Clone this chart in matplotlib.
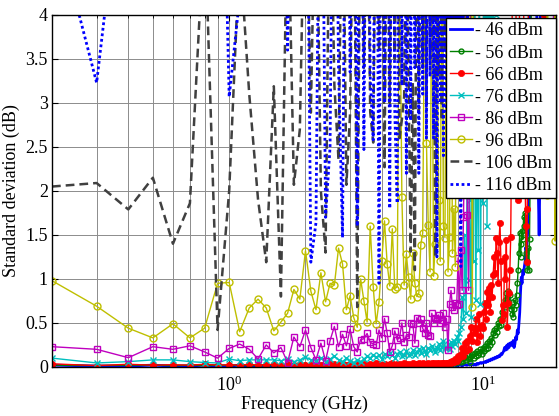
import numpy as np
import matplotlib
matplotlib.use('Agg')
import matplotlib.pyplot as plt
from matplotlib.ticker import FormatStrFormatter

plt.rcParams['font.family'] = 'serif'
plt.rcParams['font.serif'] = ['Liberation Serif', 'DejaVu Serif']
plt.rcParams['mathtext.fontset'] = 'custom'
plt.rcParams['mathtext.rm'] = 'Liberation Serif'
plt.rcParams['mathtext.it'] = 'Liberation Serif:italic'

# frequency grid, 0.1 GHz steps (0.2 ... 20.1 GHz)
freq = np.round(np.arange(2, 202) * 0.1, 1)

# standard deviation (dB) per input power; values above 4 are off the plot
s46 = [0.02,0.01,0.01,0.02,0.01,0.01,0.02,0.01,0.01,0.02,
       0.01,0.01,0.02,0.01,0.01,0.01,0.02,0.01,0.01,0.01,
       0.02,0.01,0.01,0.01,0.02,0.01,0.01,0.02,0.01,0.01,
       0.01,0.02,0.01,0.01,0.01,0.02,0.01,0.01,0.02,0.01,
       0.01,0.01,0.02,0.01,0.01,0.02,0.01,0.01,0.01,0.02,
       0.01,0.02,0.01,0.01,0.02,0.01,0.01,0.02,0.01,0.02,
       0.01,0.01,0.02,0.01,0.02,0.01,0.02,0.01,0.01,0.02,
       0.01,0.02,0.01,0.02,0.01,0.02,0.02,0.01,0.02,0.02,
       0.02,0.01,0.02,0.03,0.02,0.02,0.03,0.02,0.03,0.03,
       0.02,0.03,0.02,0.04,0.03,0.04,0.05,0.04,0.05,0.05,
       0.06,0.05,0.07,0.06,0.08,0.07,0.09,0.08,0.10,0.09,
       0.11,0.10,0.12,0.11,0.13,0.12,0.15,0.14,0.16,0.18,
       0.22,0.19,0.24,0.20,0.26,0.22,0.27,0.25,0.28,0.24,
       0.30,0.22,0.26,0.34,0.31,0.42,0.38,0.49,0.62,0.85,
       1.02,0.95,1.10,1.05,1.14,1.20,1.36,1.30,1.48,1.56,
       2.3,3.6,5.0,6.0,5.5,6.0,5.2,4.8,5.6,6.0,
       5.0,4.6,3.4,2.5,1.9,1.5,2.1,4.5,6.0,7.0,
       7,7,7,7,7,7,7,7,7,7,
       7,7,7,7,7,7,7,7,7,7,
       7,7,7,7,7,7,7,7,7,7]

s56 = [0.02,0.015,0.02,0.02,0.015,0.02,0.015,0.02,0.02,0.015,
       0.02,0.015,0.02,0.02,0.015,0.02,0.02,0.015,0.02,0.02,
       0.015,0.02,0.02,0.015,0.02,0.02,0.015,0.02,0.02,0.015,
       0.02,0.02,0.015,0.02,0.02,0.025,0.02,0.015,0.02,0.02,
       0.02,0.025,0.02,0.02,0.015,0.02,0.025,0.02,0.02,0.025,
       0.02,0.025,0.02,0.03,0.02,0.025,0.02,0.03,0.025,0.02,
       0.03,0.025,0.02,0.03,0.025,0.03,0.02,0.03,0.035,0.025,
       0.03,0.04,0.03,0.05,0.04,0.06,0.05,0.07,0.06,0.08,
       0.06,0.09,0.07,0.11,0.08,0.13,0.09,0.06,0.12,0.15,
       0.10,0.16,0.12,0.18,0.14,0.16,0.20,0.15,0.22,0.18,
       0.24,0.20,0.27,0.22,0.30,0.25,0.33,0.28,0.38,0.42,
       0.36,0.44,0.40,0.50,0.46,0.55,0.48,0.62,0.58,0.70,
       0.76,0.68,0.84,0.78,0.86,0.70,0.82,0.66,0.74,0.60,
       0.57,0.66,0.76,0.70,0.82,0.95,1.10,1.30,1.52,1.25,
       1.40,1.55,1.45,1.70,1.60,1.75,1.30,1.20,1.10,1.35,
       1.10,1.45,2.2,3.5,4.8,6,7,7,7,7,
       7,7,7,7,7,7,7,7,7,7,
       7,7,7,7,7,7,7,7,7,7,
       7,7,7,7,7,7,7,7,7,7,
       7,7,7,7,7,7,7,7,7,7]

s66 = [0.035,0.015,0.03,0.02,0.025,0.02,0.03,0.02,0.025,0.02,
       0.03,0.02,0.025,0.03,0.02,0.035,0.02,0.03,0.025,0.02,
       0.03,0.025,0.02,0.035,0.03,0.02,0.03,0.025,0.035,0.02,
       0.03,0.02,0.035,0.025,0.03,0.02,0.04,0.03,0.025,0.035,
       0.02,0.03,0.04,0.025,0.035,0.03,0.02,0.04,0.03,0.035,
       0.025,0.04,0.03,0.035,0.045,0.03,0.04,0.025,0.035,0.045,
       0.03,0.04,0.05,0.035,0.045,0.04,0.03,0.05,0.04,0.045,
       0.05,0.04,0.06,0.05,0.07,0.06,0.09,0.07,0.12,0.10,
       0.15,0.22,0.12,0.27,0.18,0.30,0.20,0.35,0.45,0.30,
       0.44,0.38,0.55,0.28,0.44,0.60,0.35,0.48,0.44,0.62,
       0.73,0.55,0.85,0.70,0.90,0.62,0.93,0.80,1.05,1.25,
       1.07,1.47,1.30,0.95,1.42,1.64,1.20,0.53,0.70,0.60,
       1.25,1.00,1.44,0.45,0.73,0.84,1.10,1.48,2.6,4.5,
       5.5,6,5,4.5,3.2,2.4,1.9,2.8,4.6,6,
       7,6,5,4.2,3.0,2.1,1.6,1.19,1.8,3.5,
       5,6,7,7,7,7,7,7,7,7,
       7,7,7,7,7,7,7,7,7,7,
       7,6,5,4,3,2.6,2.45,3.1,4.5,6,
       7,7,7,7,7,7,7,7,7,7,
       7,7,7,7,7,7,7,7,7,7]

s76 = [0.10,0.045,0.06,0.08,0.08,0.06,0.05,0.045,0.09,0.07,
       0.08,0.08,0.08,0.08,0.07,0.09,0.06,0.08,0.11,0.08,
       0.07,0.10,0.06,0.09,0.12,0.08,0.06,0.10,0.07,0.05,
       0.08,0.06,0.09,0.12,0.10,0.14,0.11,0.13,0.09,0.15,
       0.12,0.16,0.13,0.10,0.15,0.17,0.12,0.14,0.18,0.13,
       0.15,0.19,0.14,0.17,0.20,0.16,0.22,0.18,0.15,0.21,
       0.19,0.24,0.20,0.17,0.22,0.26,0.19,0.23,0.30,0.22,
       0.22,0.26,0.20,0.28,0.24,0.30,0.26,0.34,0.30,0.38,
       0.45,0.80,0.55,1.50,0.61,2.6,0.99,1.9,0.57,3.2,
       1.2,4.5,0.76,2.8,1.33,5,0.72,3.5,1.86,5,
       2.3,6,1.6,4.8,2.9,6,3.5,6,2.1,5,
       6,4,7,5,7,6,7,7,6,7,
       7,7,7,7,7,7,7,7,7,7,
       7,7,7,7,7,7,7,7,7,7,
       7,7,7,7,7,7,7,7,7,7,
       7,7,7,7,7,7,7,7,7,7,
       7,7,7,7,7,7,7,7,7,7,
       7,7,7,7,7,7,7,7,7,7,
       7,7,7,7,7,7,7,7,7,7,
       7,5,4,2.88,4,7,7,7,7,7]

s86 = [0.23,0.20,0.105,0.23,0.20,0.24,0.17,0.10,0.21,0.26,
       0.20,0.09,0.25,0.16,0.22,0.05,0.34,0.23,0.42,0.22,
       0.08,0.27,0.07,0.30,0.46,0.23,0.37,0.24,0.43,0.23,
       0.17,0.31,0.32,0.38,0.28,0.26,0.25,0.42,0.33,0.55,
       0.38,0.17,0.24,0.41,0.31,0.33,0.50,0.28,0.36,0.34,
       0.50,0.49,0.27,0.56,0.50,0.54,0.44,0.39,0.50,0.36,
       0.35,0.61,0.50,0.56,0.54,0.59,0.50,0.53,0.61,0.45,
       0.55,0.19,0.72,0.87,0.68,0.65,0.73,0.70,1.24,0.72,
       1.33,0.87,1.70,2.8,4.5,1.73,0.87,3.2,5,6,
       4.2,6,7,5,7,6,7,4.6,7,7,
       7,7,7,7,7,7,7,7,7,7,
       7,7,7,7,7,7,7,7,7,7,
       7,7,7,7,7,7,7,7,7,7,
       7,7,7,7,7,7,7,7,7,7,
       7,7,7,7,7,7,7,7,7,7,
       7,7,7,7,7,7,7,7,7,7,
       7,7,7,7,7,7,7,7,7,7,
       7,7,7,7,7,7,7,7,7,7,
       7,7,7,7,7,7,7,7,7,7,
       7,4.2,2.55,4,7,7,7,7,7,7]

s96 = [0.98,0.69,0.44,0.33,0.49,0.33,0.44,0.95,0.96,0.40,
       0.67,0.77,0.67,0.41,0.51,0.61,0.88,0.77,1.32,0.86,
       0.65,1.07,0.74,0.95,0.93,1.35,1.17,0.65,0.81,0.56,
       0.45,1.00,0.75,0.51,1.60,0.91,0.49,0.74,1.20,1.66,
       1.17,0.92,1.57,0.89,0.91,4.8,1.93,0.93,1.28,1.02,
       0.77,1.30,0.95,0.80,0.84,1.39,1.52,4.5,2.55,1.61,
       1.08,5,1.03,1.40,4.8,1.90,1.20,5,1.60,1.47,
       5,1.08,1.48,4.6,1.29,1.80,1.14,5,6,2.2,
       5,6,7,4,2.5,6,7,7,6,0.68,
       4.5,7,7,6,7,7,7,7,7,7,
       7,7,7,7,7,7,7,7,7,7,
       7,7,7,7,7,7,7,7,7,7,
       7,7,7,7,7,7,7,7,7,7,
       7,7,7,7,7,7,7,7,7,7,
       7,7,7,7,7,7,7,7,7,7,
       7,7,7,7,7,7,7,7,7,7,
       7,7,7,7,7,7,7,7,7,7,
       7,7,7,7,7,7,7,5,1.95,5,
       7,7,7,7,7,7,7,7,7,7,
       6,1.43,5,7,7,7,7,7,7,7]

s106 = [2.05,2.09,1.79,2.15,1.40,1.86,5.1,0.42,2.0,4.75,
        3.1,1.9,1.19,3.19,0.80,5.5,2.07,2.70,6,2.89,
        6,2.0,1.30,6,3.2,2.35,6,2.07,2.89,6,
        0.68,6,3.4,6,2.9,2.55,6,3.6,6,2.27,
        6,3.0,6,3.5,6,2.6,2.81,3.07,6,3.3,
        1.31,3.23,1.10,6,2.9,6,3.4,6,3.0,6,
        3.5,3.64,6,1.24,6,3.3,6,2.8,6,3.6,
        6,3.2,3.5,6,2.9,6,3.3,6,6,3.4,
        6,3.5,6,6,6,6,6,6,6,6,
        6,6,6,6,6,6,6,6,6,6,
        6,6,6,6,6,6,6,6,6,6,
        6,6,6,6,6,6,6,6,6,6,
        6,6,6,6,6,6,6,6,6,6,
        6,6,6,6,6,6,6,6,6,6,
        6,6,6,6,6,6,6,6,6,6,
        6,6,6,6,6,6,6,6,6,6,
        6,6,6,6,6,6,6,6,6,6,
        6,6,6,6,6,6,6,6,6,6,
        6,6,6,6,6,6,6,6,6,6,
        6,6,6,6,6,6,6,6,6,6]

s116 = [5.2,3.23,6.3,8,8,8,8,8.6,3.07,4.2,
        8,8,8,8,8,3.6,8,8,8,1.19,
        1.64,8,1.70,2.5,8,3.4,1.47,8,3.35,8,
        1.60,8,2.47,8,3.3,2.58,8,0.95,8,3.0,
        8,1.8,8,2.9,1.86,8,3.2,8,2.2,8,
        2.8,8,3.4,8,2.2,8,3.1,8,2.6,8,
        3.3,8,2.6,8,1.25,8,3.0,8,2.4,8,
        2.9,8,3.3,8,2.7,8,3.5,8,3.0,8,
        1.14,8,3.2,8,8,3.6,8,8,8,8,
        8,8,8,8,8,8,8,8,8,8,
        8,8,8,8,8,8,8,8,8,8,
        8,8,8,8,8,8,8,8,8,8,
        8,8,8,8,8,8,8,8,8,8,
        8,8,8,8,8,8,8,8,8,8,
        8,8,8,8,8,8,8,8,8,8,
        8,8,8,8,8,8,8,8,8,8,
        8,8,8,8,8,8,8,8,8,8,
        8,8,8,8,8,8,8,8,8,8,
        8,8,8,8,8,8,8,8,8,8,
        8,8,8,8,8,8,8,8,8,8]

labels = ['- 46 dBm', '- 56 dBm', '- 66 dBm', '- 76 dBm',
          '- 86 dBm', '- 96 dBm', '- 106 dBm', '- 116 dBm']
data = [s46, s56, s66, s76, s86, s96, s106, s116]
styles = [
    dict(color='#0000ff', lw=2.0, ls='-'),
    dict(color='#008000', lw=1.0, marker='o', ms=3.5, mfc='none', mew=1.0),
    dict(color='#ff0000', lw=1.0, marker='o', ms=4.5, mew=0.5),
    dict(color='#00bfbf', lw=1.0, marker='x', ms=4.5, mew=1.0),
    dict(color='#bf00bf', lw=1.0, marker='s', ms=5, mfc='none', mew=1.0),
    dict(color='#bfbf00', lw=1.0, marker='o', ms=5, mfc='none', mew=1.0),
    dict(color='#404040', lw=1.8, ls=(0, (3.5, 2))),
    dict(color='#0000ff', lw=2.0, ls=(0, (1, 1))),
]

fig = plt.figure(figsize=(5.59, 4.16), dpi=100)
ax = fig.add_axes([0.093, 0.118, 0.902, 0.846])

for y, lab, st in zip(data, labels, styles):
    ax.plot(freq, y, label=lab, **st)

ax.set_xscale('log')
ax.set_xlim(0.2, 19.5)
ax.set_ylim(0, 4)
ax.set_yticks(np.arange(0, 4.01, 0.5))
ax.yaxis.set_major_formatter(FormatStrFormatter('%g'))
ax.grid(True, which='both', color='0.55', lw=0.7, ls='-')
ax.set_axisbelow(True)
ax.tick_params(which='both', direction='in', top=True, right=True, labelsize=13)
ax.tick_params(which='major', length=4, pad=3)
ax.tick_params(axis='x', which='major', pad=6)
ax.tick_params(which='minor', length=2)
for sp in ax.spines.values():
    sp.set_linewidth(1.0)

ax.set_xlabel('Frequency (GHz)', fontsize=13, labelpad=1)
ax.set_ylabel('Standard deviation (dB)', fontsize=13, labelpad=4)

leg = ax.legend(loc='upper right', bbox_to_anchor=(1.0, 0.9915), fontsize=13,
                borderaxespad=0, borderpad=0.25, labelspacing=0.28,
                handlelength=1.2, handletextpad=0.15, numpoints=1,
                fancybox=False, framealpha=1, edgecolor='black')
leg.get_frame().set_linewidth(1.0)

fig.savefig('out.png', dpi=100)
